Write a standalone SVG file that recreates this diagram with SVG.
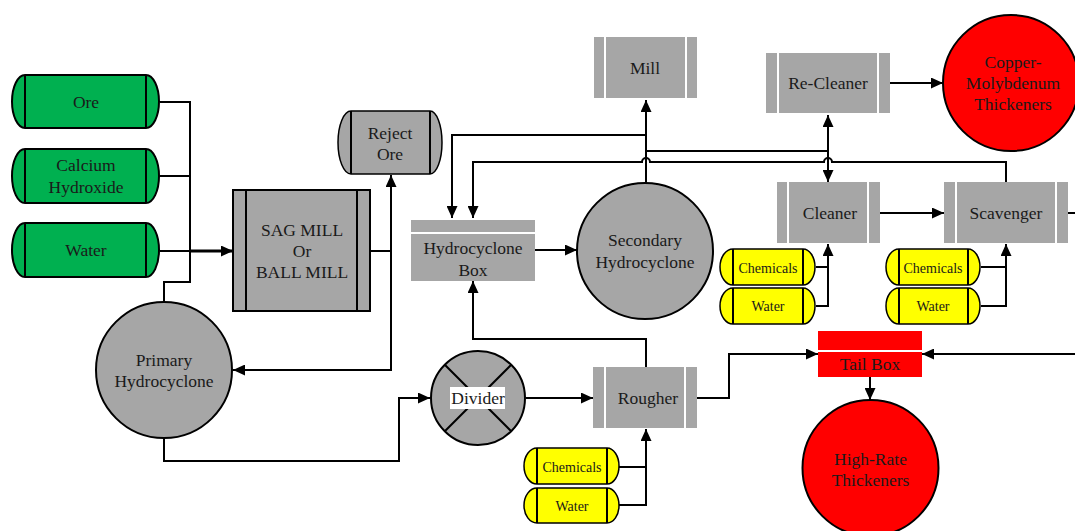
<svg xmlns="http://www.w3.org/2000/svg" width="1075" height="531" viewBox="0 0 1075 531">
  <defs>
    <marker id="arrow" markerUnits="userSpaceOnUse" markerWidth="12" markerHeight="11" refX="12" refY="5.5" orient="auto">
      <path d="M0,0 L12,5.5 L0,11 Z" fill="#000"/>
    </marker>
    <style>
      text { font-family: "Liberation Serif", "Times New Roman", serif; font-size: 17.5px; fill: #1a1a1a; text-anchor: middle; dominant-baseline: central; }
      .small { font-size: 14px; }
      .tank-green { fill: #00b050; stroke: #000; stroke-width: 2; }
      .tank-gray { fill: #a6a6a6; stroke: #000; stroke-width: 1.5; }
      .tank-yellow { fill: #ffff00; stroke: #000; stroke-width: 1.5; }
      .cap { stroke: #000; stroke-width: 2; fill: none; }
      .gray { fill: #a6a6a6; }
      .red { fill: #ff0000; }
      .sep { stroke: #fff; stroke-width: 2; fill: none; }
      .circ-gray { fill: #a6a6a6; stroke: #000; stroke-width: 2; }
      .circ-red { fill: #ff0000; stroke: #000; stroke-width: 2; }
      .wire { fill: none; stroke: #000; stroke-width: 2; }
      .feed { fill: none; stroke: #000; stroke-width: 3; }
      .arr { marker-end: url(#arrow); }
    </style>
  </defs>

  <rect width="1075" height="531" fill="#fff"/>

  <!-- Connectors -->
  <g id="connectors">
    <!-- raw feeds into the mill -->
    <path class="wire" d="M164,302 V282 H190 V102 H160"/>
    <path class="wire" d="M160,176 H190"/>
    <path class="wire" d="M160,251 H190"/>
    <path class="feed arr" d="M190,251 H233"/>
    <!-- mill discharge -->
    <path class="wire arr" d="M370,251 H391 V175"/>
    <path class="wire arr" d="M391,251 V370 H233"/>
    <!-- primary hydrocyclone underflow to divider -->
    <path class="wire arr" d="M164,438 V461 H399 V398 H430"/>
    <!-- divider to rougher -->
    <path class="wire arr" d="M526,398 H593"/>
    <!-- rougher concentrate back to hydrocyclone box -->
    <path class="wire arr" d="M646,367 V339 H473 V281"/>
    <!-- rougher reagents -->
    <path class="wire" d="M619,467 H646"/>
    <path class="wire arr" d="M619,505 H646 V429"/>
    <!-- rougher tails -->
    <path class="wire arr" d="M697,398 H729 V354 H818"/>
    <path class="wire arr" d="M1075,354 H922"/>
    <path class="wire arr" d="M870,377 V400"/>
    <!-- hydrocyclone box to secondary -->
    <path class="wire arr" d="M535,250 H577"/>
    <!-- secondary overflow -->
    <path class="wire arr" d="M646,183 V100"/>
    <path class="wire arr" d="M646,135 H452 V218"/>
    <path class="wire" d="M646,151 H828"/>
    <path class="wire arr" d="M828,151 V115"/>
    <path class="wire arr" d="M828,151 V182"/>
    <!-- scavenger return line with hops -->
    <path class="wire arr" d="M1006,183 V162 H832 A4,4 0 0 0 824,162 H650 A4,4 0 0 0 642,162 H473 V218"/>
    <!-- re-cleaner to thickener -->
    <path class="wire arr" d="M890,83 H943"/>
    <!-- cleaner to scavenger -->
    <path class="wire arr" d="M880,213 H944"/>
    <path class="wire" d="M1068,213 H1075"/>
    <!-- cleaner reagents -->
    <path class="wire" d="M816,267 H828"/>
    <path class="wire arr" d="M816,306 H828 V244"/>
    <!-- scavenger reagents -->
    <path class="wire" d="M981,267 H1006"/>
    <path class="wire arr" d="M981,306 H1006 V244"/>
  </g>

  <!-- Feed tanks -->
  <g id="ore">
    <path class="tank-green" d="M25,75 H146 A13,26.5 0 0 1 146,128 H25 A13,26.5 0 0 1 25,75 Z"/>
    <path class="cap" d="M25,75 V128 M146,75 V128"/>
    <text x="86" y="102">Ore</text>
  </g>
  <g id="calcium-hydroxide">
    <path class="tank-green" d="M25,149 H146 A13,27 0 0 1 146,203 H25 A13,27 0 0 1 25,149 Z"/>
    <path class="cap" d="M25,149 V203 M146,149 V203"/>
    <text x="86" y="165">Calcium</text>
    <text x="86" y="187">Hydroxide</text>
  </g>
  <g id="water-feed">
    <path class="tank-green" d="M25,223 H146 A13,27 0 0 1 146,277 H25 A13,27 0 0 1 25,223 Z"/>
    <path class="cap" d="M25,223 V277 M146,223 V277"/>
    <text x="86" y="250">Water</text>
  </g>

  <!-- Grinding -->
  <g id="sag-mill">
    <rect x="233" y="190" width="137" height="121" fill="#a6a6a6" stroke="#000" stroke-width="2"/>
    <path class="cap" d="M246,190 V311 M357,190 V311"/>
    <text x="302" y="230">SAG MILL</text>
    <text x="302" y="251">Or</text>
    <text x="302" y="272">BALL MILL</text>
  </g>
  <g id="reject-ore">
    <path class="tank-gray" d="M351,111 H430 A12,31.5 0 0 1 430,174 H351 A13,31.5 0 0 1 351,111 Z"/>
    <path class="cap" d="M351,111 V174 M430,111 V174" stroke-width="1.5"/>
    <text x="390" y="133">Reject</text>
    <text x="390" y="154">Ore</text>
  </g>
  <g id="primary-hydrocyclone">
    <circle class="circ-gray" cx="164" cy="370" r="68"/>
    <text x="164" y="360">Primary</text>
    <text x="164" y="381">Hydrocyclone</text>
  </g>
  <g id="divider">
    <circle class="circ-gray" cx="478" cy="398" r="47"/>
    <path class="wire" d="M444.8,364.8 L511.2,431.2 M511.2,364.8 L444.8,431.2"/>
    <rect x="450" y="387" width="55" height="22" fill="#fff"/>
    <text x="478" y="398">Divider</text>
  </g>

  <!-- Classification -->
  <g id="hydrocyclone-box">
    <rect class="gray" x="411" y="220" width="124" height="61"/>
    <path class="sep" d="M411,233 H535"/>
    <text x="473" y="248">Hydrocyclone</text>
    <text x="473" y="270">Box</text>
  </g>
  <g id="secondary-hydrocyclone">
    <circle class="circ-gray" cx="645" cy="251" r="68"/>
    <text x="645" y="240">Secondary</text>
    <text x="645" y="262">Hydrocyclone</text>
  </g>
  <g id="mill">
    <rect class="gray" x="594" y="37" width="103" height="61"/>
    <path class="sep" d="M605,37 V98 M686,37 V98"/>
    <text x="645" y="68">Mill</text>
  </g>

  <!-- Flotation -->
  <g id="rougher">
    <rect class="gray" x="593" y="367" width="104" height="61"/>
    <path class="sep" d="M605,367 V428 M685,367 V428"/>
    <text x="648" y="398">Rougher</text>
  </g>
  <g id="re-cleaner">
    <rect class="gray" x="766" y="53" width="124" height="60"/>
    <path class="sep" d="M778,53 V113 M878,53 V113"/>
    <text x="828" y="83">Re-Cleaner</text>
  </g>
  <g id="cleaner">
    <rect class="gray" x="777" y="182" width="103" height="61"/>
    <path class="sep" d="M788,182 V243 M868,182 V243"/>
    <text x="830" y="213">Cleaner</text>
  </g>
  <g id="scavenger">
    <rect class="gray" x="944" y="182" width="124" height="61"/>
    <path class="sep" d="M956,182 V243 M1056,182 V243"/>
    <text x="1006" y="213">Scavenger</text>
  </g>

  <!-- Reagent tanks -->
  <g id="rougher-chemicals">
    <path class="tank-yellow" d="M537,448 H607 A12,18 0 0 1 607,484 H537 A13,18 0 0 1 537,448 Z"/>
    <path class="cap" d="M537,448 V484 M607,448 V484" stroke-width="1.5"/>
    <text class="small" x="572" y="467">Chemicals</text>
  </g>
  <g id="rougher-water">
    <path class="tank-yellow" d="M537,488 H607 A12,17.5 0 0 1 607,523 H537 A13,17.5 0 0 1 537,488 Z"/>
    <path class="cap" d="M537,488 V523 M607,488 V523" stroke-width="1.5"/>
    <text class="small" x="572" y="506">Water</text>
  </g>
  <g id="cleaner-chemicals">
    <path class="tank-yellow" d="M733,249 H803 A12,18 0 0 1 803,285 H733 A13,18 0 0 1 733,249 Z"/>
    <path class="cap" d="M733,249 V285 M803,249 V285" stroke-width="1.5"/>
    <text class="small" x="768" y="268">Chemicals</text>
  </g>
  <g id="cleaner-water">
    <path class="tank-yellow" d="M733,288 H803 A12,18 0 0 1 803,324 H733 A13,18 0 0 1 733,288 Z"/>
    <path class="cap" d="M733,288 V324 M803,288 V324" stroke-width="1.5"/>
    <text class="small" x="768" y="306">Water</text>
  </g>
  <g id="scavenger-chemicals">
    <path class="tank-yellow" d="M899,249 H968 A12,18 0 0 1 968,285 H899 A13,18 0 0 1 899,249 Z"/>
    <path class="cap" d="M899,249 V285 M968,249 V285" stroke-width="1.5"/>
    <text class="small" x="933" y="268">Chemicals</text>
  </g>
  <g id="scavenger-water">
    <path class="tank-yellow" d="M899,288 H968 A12,18 0 0 1 968,324 H899 A13,18 0 0 1 899,288 Z"/>
    <path class="cap" d="M899,288 V324 M968,288 V324" stroke-width="1.5"/>
    <text class="small" x="933" y="306">Water</text>
  </g>

  <!-- Tailings and concentrate -->
  <g id="tail-box">
    <rect class="red" x="818" y="331" width="104" height="46"/>
    <path class="sep" d="M818,351 H922"/>
    <text x="870" y="364">Tail Box</text>
  </g>
  <g id="high-rate-thickeners">
    <circle class="circ-red" cx="870.5" cy="468" r="68"/>
    <text x="870.5" y="459">High-Rate</text>
    <text x="870.5" y="480">Thickeners</text>
  </g>
  <g id="copper-molybdenum-thickeners">
    <circle class="circ-red" cx="1011" cy="83" r="68"/>
    <text x="1013" y="62">Copper-</text>
    <text x="1013" y="83">Molybdenum</text>
    <text x="1013" y="104">Thickeners</text>
  </g>
</svg>
